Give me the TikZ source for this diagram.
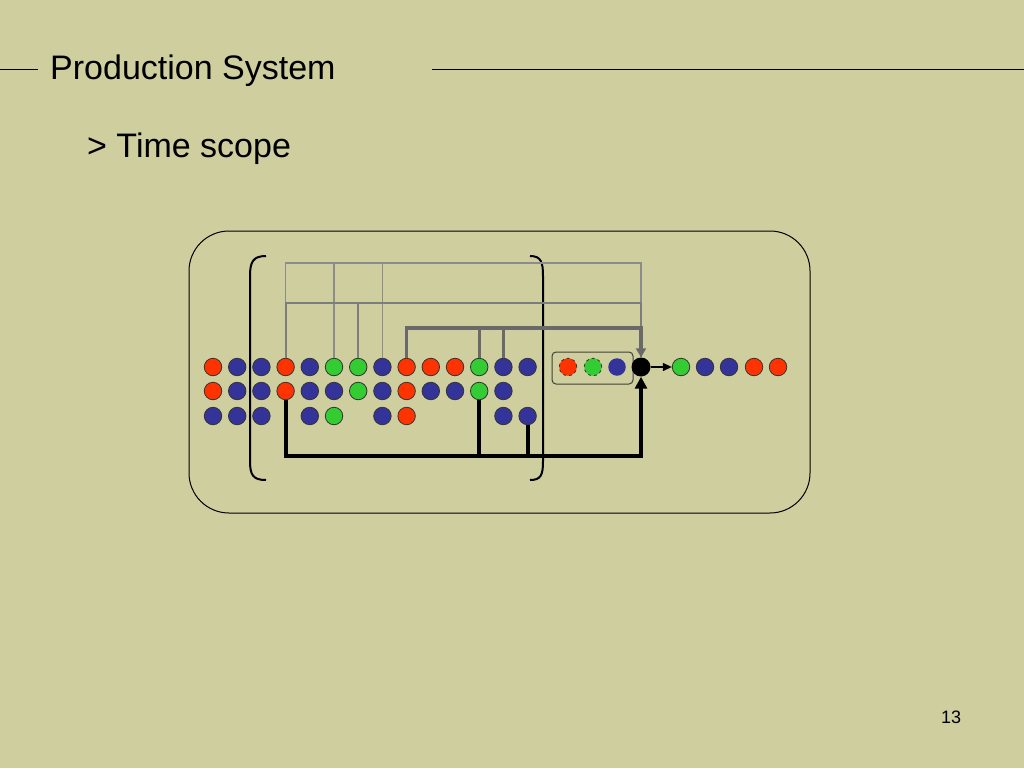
\documentclass[tikz,border=0pt]{standalone}
\usepackage{fontspec}
\setmainfont{Liberation Sans}
\usetikzlibrary{arrows.meta}
\definecolor{bg}{RGB}{206,206,158}
\definecolor{dr}{RGB}{255,51,0}
\definecolor{db}{RGB}{51,51,153}
\definecolor{dg}{RGB}{51,204,51}
\definecolor{gA}{RGB}{140,140,140}
\definecolor{gB}{RGB}{125,125,125}
\definecolor{gC}{RGB}{105,105,105}
\tikzset{
  dot/.style={circle,draw=black!80,line width=0.8pt,minimum size=17.5pt,inner sep=0pt},
  R/.style={dot,fill=dr},
  B/.style={dot,fill=db},
  G/.style={dot,fill=dg},
  lvlA/.style={draw=gA,line width=1.3pt},
  lvlB/.style={draw=gB,line width=2.2pt},
  lvlC/.style={draw=gC,line width=3.2pt},
  blk/.style={draw=black,line width=4pt},
  brk/.style={draw=black,line width=2pt},
  ttl/.style={anchor=base west,inner sep=0pt,font=\fontsize{34}{40}\selectfont}
}
\begin{document}
\begin{tikzpicture}[x=1pt,y=-1pt]
\fill[bg] (0,0) rectangle (1024,768);
\useasboundingbox (0,0) rectangle (1024,768);
% title
\node[ttl] (title) at (50,79) {Production System};
\draw[line width=1pt] (0,69) -- (38,69);
\draw[line width=1pt] (432,69) -- (1024,69);
\node[ttl] (sub) at (87,157) {> Time scope};
\node[anchor=base west,inner sep=0pt,font=\fontsize{18}{22}\selectfont] (pg) at (941,723) {13};
% outer box
\draw[line width=1pt,rounded corners=40pt] (189,231) rectangle (810,513);
% brackets
\draw[brk] (266,256) .. controls (253,256) and (250,262) .. (250,276) -- (250,461) .. controls (250,475) and (253,480) .. (266,480);
\draw[brk] (530,256) .. controls (541,256) and (543,262) .. (543,276) -- (543,461) .. controls (543,475) and (541,480) .. (530,480);
% dots
\foreach \c/\s in {0/R,1/B,2/B,3/R,4/B,5/G,6/G,7/B,8/R,9/R,10/R,11/G,12/B,13/B}
  \node[\s] (a\c) at (213+24.2*\c,367) {};
\foreach \c/\s in {0/R,1/B,2/B,3/R,4/B,5/B,6/G,7/B,8/R,9/B,10/B,11/G,12/B}
  \node[\s] (b\c) at (213+24.2*\c,391) {};
\foreach \c/\s in {0/B,1/B,2/B,4/B,5/G,7/B,8/R,12/B,13/B}
  \node[\s] (c\c) at (213+24.2*\c,416) {};
% buffer box
\node[draw=black!75,line width=1pt,rounded corners=4pt,minimum width=81pt,minimum height=32pt] (buf) at (592.5,368) {};
\node[R,dashed] (q1) at (568,367) {};
\node[G,dashed] (q2) at (593,367) {};
\node[dot,draw=none,fill=db] (q3) at (617,367) {};
% machine
\node[circle,fill=black,minimum size=19pt,inner sep=0pt] (k) at (641,367) {};
% output
\node[G] (o1) at (681,367) {};
\node[B] (o2) at (705,367) {};
\node[B] (o3) at (729,367) {};
\node[R] (o4) at (754,367) {};
\node[R] (o5) at (778,367) {};
\draw[line width=1.2pt,-{Triangle[length=9pt,width=8pt]}] (k.east) -- (o1.west);
% level coordinates
\coordinate (LA) at (0,263);
\coordinate (LB) at (0,303);
\coordinate (LC) at (0,328);
\coordinate (LK) at (0,456);
% level A
\draw[lvlA] (a3.north) -- (a3.north |- LA) -| (k.north);
\draw[lvlA] (a5.north) -- (a5.north |- LA);
\draw[lvlA] (a7.north) -- (a7.north |- LA);
% level B
\draw[lvlB] (a3.north) -- (a3.north |- LB) -| (k.north);
\draw[lvlB] (a6.north) -- (a6.north |- LB);
% level C
\draw[lvlC,-{Triangle[length=9pt,width=10pt]}] (a8.north) -- (a8.north |- LC) -| (k.north);
\draw[lvlC] (a11.north) -- (a11.north |- LC);
\draw[lvlC] (a12.north) -- (a12.north |- LC);
% black feedback
\draw[blk,-{Triangle[length=12pt,width=12pt]}] (b3.south) -- (b3.south |- LK) -| (k.south);
\draw[blk] (b11.south) -- (b11.south |- LK);
\draw[blk] (c13.south) -- (c13.south |- LK);
\end{tikzpicture}
\end{document}
